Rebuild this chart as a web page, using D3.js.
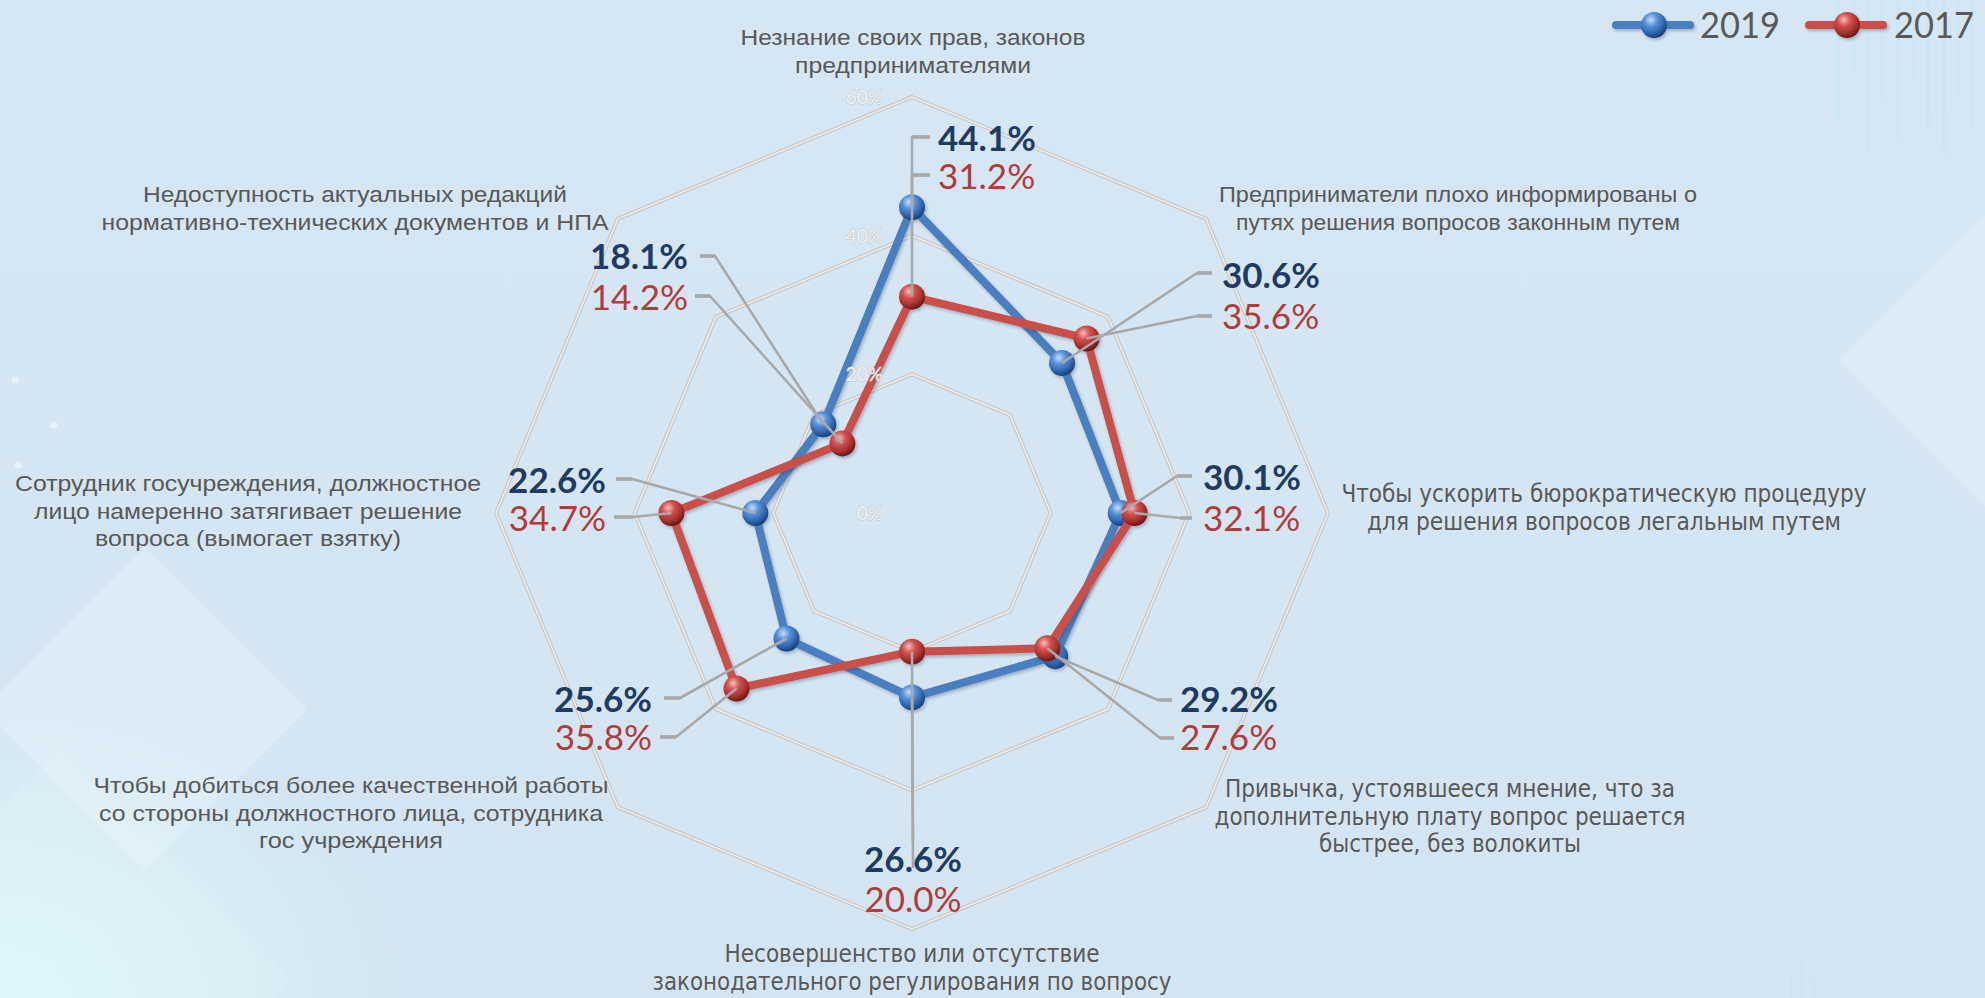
<!DOCTYPE html>
<html>
<head>
<meta charset="utf-8">
<script src="https://cdn.jsdelivr.net/npm/d3@7"></script>
<style>
  html, body { margin: 0; padding: 0; background: #d5e6f2; overflow: hidden; }
  svg { display: block; }
</style>
</head>
<body>
<div id="chart"></div>
<script>
// ---- data ----
const categories = [
  ["Незнание своих прав, законов", "предпринимателями"],
  ["Предприниматели плохо информированы о", "путях решения вопросов законным путем"],
  ["Чтобы ускорить бюрократическую процедуру", "для решения вопросов легальным путем"],
  ["Привычка, устоявшееся мнение, что за", "дополнительную плату вопрос решается", "быстрее, без волокиты"],
  ["Несовершенство или отсутствие", "законодательного регулирования по вопросу"],
  ["Чтобы добиться более качественной работы", "со стороны должностного лица, сотрудника", "гос учреждения"],
  ["Сотрудник госучреждения, должностное", "лицо намеренно затягивает решение", "вопроса (вымогает взятку)"],
  ["Недоступность актуальных редакций", "нормативно-технических документов и НПА"]
];
const values2019 = [44.1, 30.6, 30.1, 29.2, 26.6, 25.6, 22.6, 18.1];
const values2017 = [31.2, 35.6, 32.1, 27.6, 20.0, 35.8, 34.7, 14.2];
const seriesNames = ["2019", "2017"];
const ringTicks = [0, 20, 40, 60];

// ---- layout ----
const width = 1985, height = 998;
const cx = 912, cy = 513, outerR = 416;

// category label blocks: centre x, first baseline, measured line widths, narrow face or not
const catLayout = [
  {x: 913, y: 45, w: [345, 236], narrow: false},
  {x: 1458, y: 202, w: [478, 444], narrow: false},
  {x: 1604, y: 502, w: [525, 474], narrow: true},
  {x: 1450, y: 797, w: [450, 471, 262], narrow: true},
  {x: 912, y: 962, w: [375, 519], narrow: true},
  {x: 351, y: 793, w: [515, 504, 184], narrow: false},
  {x: 248, y: 491, w: [466, 428, 306], narrow: false},
  {x: 355, y: 202, w: [424, 507], narrow: false}
];
const lineH = 27.5;

// value label anchors (2019 above, 2017 below)
const valueLayout = [
  {x: 938, y: [139, 177], anchor: "start"},
  {x: 1222, y: [276, 317], anchor: "start"},
  {x: 1203, y: [478, 519], anchor: "start"},
  {x: 1180, y: [700, 738], anchor: "start"},
  {x: 913, y: [860, 900], anchor: "middle"},
  {x: 652, y: [700, 738], anchor: "end"},
  {x: 606, y: [481, 519], anchor: "end"},
  {x: 688, y: [257, 298], anchor: "end"}
];
// leader line bends near the labels
const leaderLayout = [
  [[[912, 137], [930, 137]], [[912, 175], [930, 175]]],
  [[[1197, 273], [1212, 273]], [[1197, 316], [1212, 316]]],
  [[[1177, 476], [1192, 476]], [[1180, 518], [1192, 518]]],
  [[[1158, 700], [1172, 700]], [[1160, 738], [1174, 738]]],
  [[[913, 842]], [[913, 868]]],
  [[[680, 698], [664, 698]], [[676, 737], [660, 737]]],
  [[[632, 479], [616, 479]], [[633, 517], [614, 517]]],
  [[[715, 256], [700, 256]], [[710, 296], [695, 296]]]
];

const lineColors = ["#4a7ebf", "#c94f4c"];
const labelColors = ["#1f3b64", "#b23b3b"];

const svg = d3.select("#chart").append("svg")
  .attr("width", width)
  .attr("height", height);

const defs = svg.append("defs");

// background
const bg = defs.append("linearGradient").attr("id", "bg")
  .attr("x1", 0).attr("y1", 0).attr("x2", 0).attr("y2", 1);
bg.append("stop").attr("offset", 0).attr("stop-color", "#d6e6f2");
bg.append("stop").attr("offset", 1).attr("stop-color", "#d4e5f1");

const glow = defs.append("radialGradient").attr("id", "glow")
  .attr("cx", 0).attr("cy", 1).attr("r", 1);
glow.append("stop").attr("offset", 0).attr("stop-color", "#dff7f8").attr("stop-opacity", 0.95);
glow.append("stop").attr("offset", 1).attr("stop-color", "#dff7f8").attr("stop-opacity", 0);

[["sph0", ["#c4defa", "#5b93db", "#2d63ad", "#1b4279"]],
 ["sph1", ["#f6bcb9", "#d2524e", "#a52f2c", "#6d1816"]]].forEach(([id, c]) => {
  const g = defs.append("radialGradient").attr("id", id)
    .attr("cx", "38%").attr("cy", "30%").attr("r", "70%");
  g.append("stop").attr("offset", "0%").attr("stop-color", c[0]);
  g.append("stop").attr("offset", "35%").attr("stop-color", c[1]);
  g.append("stop").attr("offset", "75%").attr("stop-color", c[2]);
  g.append("stop").attr("offset", "100%").attr("stop-color", c[3]);
});

const shadow = defs.append("filter").attr("id", "shadow")
  .attr("x", "-20%").attr("y", "-20%").attr("width", "140%").attr("height", "140%");
shadow.append("feDropShadow").attr("dx", 1.5).attr("dy", 2).attr("stdDeviation", 1.6)
  .attr("flood-color", "#1c2f45").attr("flood-opacity", 0.3);

svg.append("rect").attr("width", width).attr("height", height).attr("fill", "url(#bg)");

// decorative shapes
const deco = svg.append("g");
const diamond = (x, y, h) => `M${x},${y - h}L${x + h},${y}L${x},${y + h}L${x - h},${y}Z`;
deco.append("path").attr("d", diamond(145, 709, 162)).attr("fill", "#ffffff").attr("opacity", 0.22);
deco.append("path").attr("d", diamond(60, 980, 230)).attr("fill", "#ffffff").attr("opacity", 0.12);
deco.append("rect").attr("x", 0).attr("y", 700).attr("width", 400).attr("height", 298).attr("fill", "url(#glow)");
deco.append("path").attr("d", diamond(1990, 361, 150)).attr("fill", "#ffffff").attr("opacity", 0.2);
[[1836, 120], [1852, 70], [1866, 150], [1880, 100], [1896, 140], [1912, 80], [1926, 130], [1942, 155],
 [1956, 95], [1970, 125]].forEach(([x, h]) => {
  deco.append("rect").attr("x", x).attr("y", 0).attr("width", 4).attr("height", h)
    .attr("fill", "#c6e6ef").attr("opacity", 0.45);
});
[[1790, 24], [1800, 40], [1812, 18]].forEach(([x, h]) => {
  deco.append("rect").attr("x", x).attr("y", 998 - h).attr("width", 3).attr("height", h)
    .attr("fill", "#c2e4ee").attr("opacity", 0.5);
});
[[15, 380], [54, 425], [18, 465]].forEach(([x, y]) => {
  deco.append("circle").attr("cx", x).attr("cy", y).attr("r", 3.5).attr("fill", "#ffffff").attr("opacity", 0.45);
});

// ---- scales ----
const n = categories.length;
const step = 2 * Math.PI / n;
const r = d3.scaleLinear().domain([0, 60]).range([0, outerR]);
const angle = i => i * step;
const pt = (i, v) => [cx + r(v) * Math.sin(angle(i)), cy - r(v) * Math.cos(angle(i))];

const radial = d3.lineRadial()
  .angle((d, i) => angle(i))
  .radius(d => r(d))
  .curve(d3.curveLinearClosed);

const plot = svg.append("g").attr("transform", `translate(${cx},${cy})`);

// grid rings
const grid = plot.append("g");
ringTicks.filter(t => t > 0).forEach(t => {
  const ring = d3.range(n).map(() => t);
  grid.append("path").attr("d", radial(ring))
    .attr("fill", "none").attr("stroke", "#c8c8c8").attr("stroke-width", 4);
  grid.append("path").attr("d", radial(ring))
    .attr("fill", "none").attr("stroke", "#ececec").attr("stroke-width", 1.6);
});

// ring labels
svg.append("g").selectAll("text")
  .data(ringTicks)
  .join("text")
  .attr("x", cx - 29)
  .attr("y", d => cy - r(d) + 7)
  .attr("text-anchor", "end")
  .attr("font-family", "Lato, 'Open Sans', sans-serif")
  .attr("font-size", 19)
  .attr("fill", "#f2f2f2")
  .attr("stroke", "#bdbdbd")
  .attr("stroke-width", 0.8)
  .attr("paint-order", "stroke")
  .text(d => d + "%");

// series
const series = [values2019, values2017];
series.forEach((vals, s) => {
  const g = plot.append("g").attr("filter", "url(#shadow)");
  g.append("path").attr("d", radial(vals))
    .attr("fill", "none")
    .attr("stroke", lineColors[s])
    .attr("stroke-width", 8)
    .attr("stroke-linejoin", "round");
  g.selectAll("circle")
    .data(vals)
    .join("circle")
    .attr("cx", (d, i) => r(d) * Math.sin(angle(i)))
    .attr("cy", (d, i) => -r(d) * Math.cos(angle(i)))
    .attr("r", 13)
    .attr("fill", `url(#sph${s})`);
});

// leader lines
const leaders = svg.append("g")
  .attr("fill", "none")
  .attr("stroke", "#a9a9a9")
  .attr("stroke-width", 2.6)
  .attr("stroke-linejoin", "round");
series.forEach((vals, s) => {
  vals.forEach((v, i) => {
    const pts = [pt(i, v)].concat(leaderLayout[i][s]);
    leaders.append("path").attr("d", d3.line()(pts));
  });
});
// thicker end ticks
leaderLayout.forEach(lay => lay.forEach(p => {
  if (p.length === 2) {
    leaders.append("path").attr("d", d3.line()(p)).attr("stroke-width", 3.6);
  }
}));

// value labels
const vlab = svg.append("g").attr("font-family", "Lato, 'Open Sans', sans-serif");
series.forEach((vals, s) => {
  vlab.selectAll(`text.s${s}`)
    .data(vals)
    .join("text")
    .attr("class", `s${s}`)
    .attr("x", (d, i) => valueLayout[i].x)
    .attr("y", (d, i) => valueLayout[i].y[s] + 12)
    .attr("text-anchor", (d, i) => valueLayout[i].anchor)
    .attr("font-size", 35)
    .attr("font-weight", s === 0 ? 700 : 400)
    .attr("fill", labelColors[s])
    .text(d => d3.format(".1f")(d) + "%");
});

// category labels
const clab = svg.append("g")
  .attr("fill", "#595959")
  .attr("text-anchor", "middle");
categories.forEach((lines, i) => {
  const lay = catLayout[i];
  lines.forEach((line, j) => {
    clab.append("text")
      .attr("x", lay.x)
      .attr("y", lay.y + j * lineH)
      .attr("font-family", lay.narrow
        ? "'Liberation Sans Narrow', 'DejaVu Sans Condensed', Arial, sans-serif"
        : "'Liberation Sans', Arial, sans-serif")
      .attr("font-size", lay.narrow ? 24 : 22)
      .attr("textLength", lay.w[j])
      .attr("lengthAdjust", "spacingAndGlyphs")
      .text(line);
  });
});

// legend
const legendItems = [
  {lx: 1616, tx: 1700},
  {lx: 1809, tx: 1894}
];
const legend = svg.append("g");
seriesNames.forEach((name, s) => {
  const it = legendItems[s];
  const g = legend.append("g").attr("filter", "url(#shadow)");
  g.append("line")
    .attr("x1", it.lx).attr("x2", it.lx + 74)
    .attr("y1", 25).attr("y2", 25)
    .attr("stroke", lineColors[s]).attr("stroke-width", 8).attr("stroke-linecap", "round");
  g.append("circle").attr("cx", it.lx + 38).attr("cy", 25).attr("r", 13)
    .attr("fill", `url(#sph${s})`);
  legend.append("text")
    .attr("x", it.tx).attr("y", 38)
    .attr("font-family", "Lato, 'Open Sans', sans-serif")
    .attr("font-size", 37)
    .attr("fill", "#595959")
    .attr("textLength", 80)
    .attr("lengthAdjust", "spacingAndGlyphs")
    .text(name);
});
</script>
</body>
</html>
